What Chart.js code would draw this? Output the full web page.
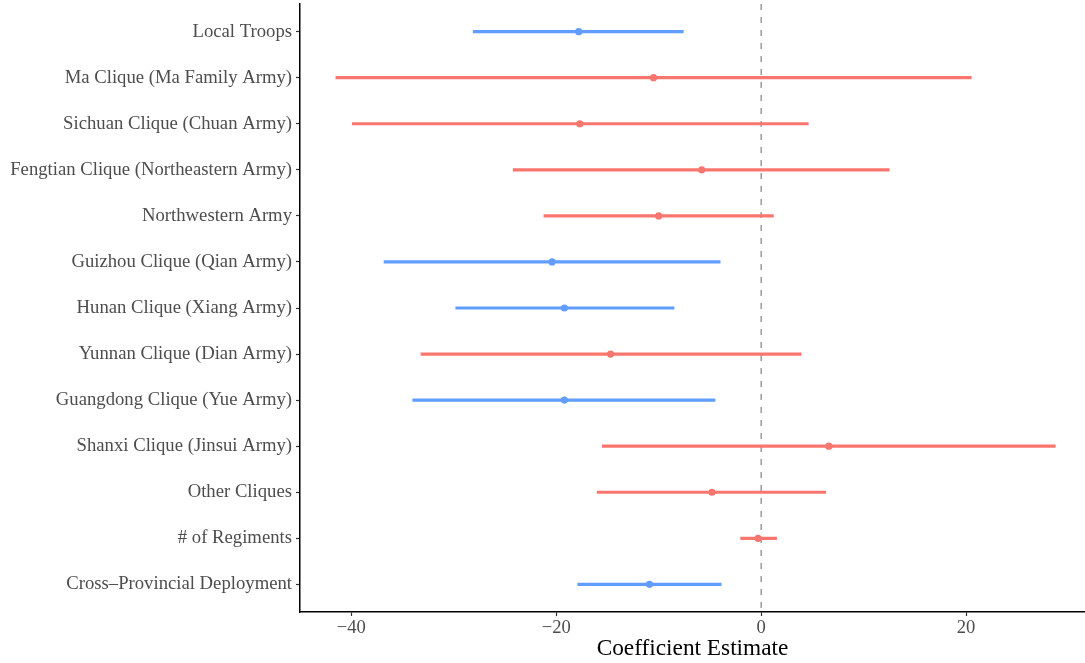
<!DOCTYPE html>
<html>
<head>
<meta charset="utf-8">
<script src="https://cdn.jsdelivr.net/npm/chart.js@4/dist/chart.umd.min.js"></script>
<style>
  html, body { margin: 0; padding: 0; background: #fff; }
  .chart__container { position: relative; width: 1085px; height: 663px; }
</style>
</head>
<body>
<div class="chart__container">
  <canvas id="chart" width="1085" height="663"></canvas>
</div>
<script>
// categories, top to bottom
const categories = [
  'Local Troops',
  'Ma Clique (Ma Family Army)',
  'Sichuan Clique (Chuan Army)',
  'Fengtian Clique (Northeastern Army)',
  'Northwestern Army',
  'Guizhou Clique (Qian Army)',
  'Hunan Clique (Xiang Army)',
  'Yunnan Clique (Dian Army)',
  'Guangdong Clique (Yue Army)',
  'Shanxi Clique (Jinsui Army)',
  'Other Cliques',
  '# of Regiments',
  'Cross\u2013Provincial Deployment',
];
const estimates = [-17.8, -10.5, -17.7, -5.8, -10.0, -20.4, -19.2, -14.7, -19.2, 6.6, -4.8, -0.3, -10.9];
const lower = [-28.1, -41.5, -39.9, -24.2, -21.2, -36.8, -29.8, -33.2, -34.0, -15.5, -16.0, -2.0, -17.9];
const upper = [-7.6, 20.5, 4.6, 12.5, 1.2, -4.0, -8.5, 3.9, -4.5, 28.7, 6.3, 1.5, -3.9];
const significant = [true, false, false, false, false, true, true, false, true, false, false, false, true];
const xTicks = [-40, -20, 0, 20];

const BLUE = '#619CFF';
const RED = '#F8766D';
const colors = significant.map((s) => (s ? BLUE : RED));
const serif = '"Liberation Serif", "DejaVu Serif", serif';

const ctx = document.getElementById('chart').getContext('2d');
// eslint-disable-next-line no-new
new Chart(ctx, {
  type: 'bar',
  data: {
    datasets: [
      {
        type: 'line',
        data: [{ x: 0, y: -0.6 }, { x: 0, y: categories.length - 0.4 }],
        borderColor: '#8c8c8c',
        borderWidth: 1.3,
        borderDash: [6, 7],
        pointRadius: 0,
        order: 3,
      },
      {
        type: 'bar',
        data: categories.map((c, i) => ({ x: [lower[i], upper[i]], y: i })),
        backgroundColor: colors,
        barThickness: 2.5,
        order: 2,
      },
      {
        type: 'scatter',
        data: categories.map((c, i) => ({ x: estimates[i], y: i })),
        backgroundColor: colors,
        borderWidth: 0,
        pointRadius: 3.6,
        order: 1,
      },
    ],
  },
  options: {
    indexAxis: 'y',
    responsive: false,
    animation: false,
    layout: { autoPadding: false, padding: { top: 4, right: 0, left: 0, bottom: 0 } },
    plugins: {
      legend: { display: false },
      tooltip: { enabled: false },
    },
    scales: {
      x: {
        type: 'linear',
        min: -45,
        max: 31.6,
        afterBuildTicks: (scale) => { scale.ticks = xTicks.map((v) => ({ value: v })); },
        afterFit: (scale) => { scale.height = 51; scale.paddingLeft = 0; scale.paddingRight = 0; },
        border: { display: true, color: '#000', width: 1.5 },
        grid: { drawOnChartArea: false, tickLength: 4, color: '#333', tickWidth: 1.2 },
        ticks: {
          padding: 1,
          maxRotation: 0,
          autoSkip: false,
          color: '#4D4D4D',
          font: { family: serif, size: 18.6 },
          callback: (v) => String(v).replace('-', '\u2212'),
        },
        title: {
          display: true,
          text: 'Coefficient Estimate',
          color: '#000',
          font: { family: serif, size: 23.3 },
          padding: { top: 0, bottom: 0 },
        },
      },
      y: {
        type: 'linear',
        reverse: true,
        offset: false,
        min: -0.6,
        max: categories.length - 0.4,
        afterBuildTicks: (scale) => { scale.ticks = categories.map((c, i) => ({ value: i })); },
        afterFit: (scale) => { scale.width = 300; scale.paddingTop = 0; scale.paddingBottom = 0; },
        border: { display: true, color: '#000', width: 1.5 },
        grid: { offset: false, drawOnChartArea: false, tickLength: 4, color: '#333', tickWidth: 1.2 },
        ticks: {
          padding: 4,
          autoSkip: false,
          color: '#4D4D4D',
          font: { family: serif, size: 18.7 },
          callback: (v) => categories[v],
        },
      },
    },
  },
});
</script>
</body>
</html>
